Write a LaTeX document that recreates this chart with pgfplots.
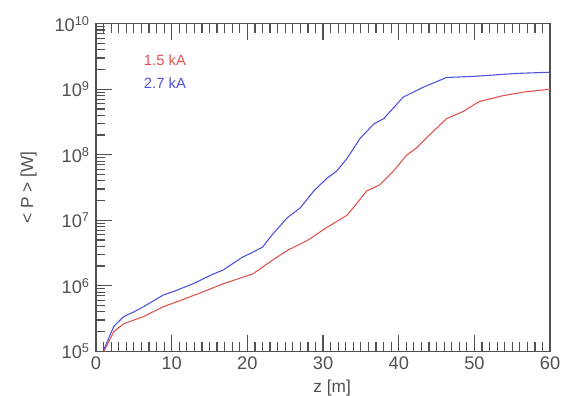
\documentclass[border=0pt]{standalone}
\usepackage{fontspec}
\setmainfont{Liberation Sans}
\usepackage{pgfplots}
\pgfplotsset{compat=1.18}
\definecolor{cred}{RGB}{222,84,78}
\definecolor{cblue}{RGB}{80,80,225}
\definecolor{axgray}{RGB}{80,80,80}
\begin{document}
\begin{tikzpicture}
\begin{axis}[
  scale only axis,
  width=459bp, height=331bp,
  xmin=0, xmax=60,
  ymode=log, ymin=1e5, ymax=1e10,
  xtick={0,10,...,60},
  minor x tick num=9,
  ytick={1e5,1e6,1e7,1e8,1e9,1e10},
  yticklabels={10\textsuperscript{5},10\textsuperscript{6},10\textsuperscript{7},10\textsuperscript{8},10\textsuperscript{9},10\textsuperscript{10}},
  ytick pos=left,
  tick align=inside,
  major tick length=16bp,
  minor tick length=9bp,
  every tick/.style={axgray, line width=1.2pt},
  axis line style={axgray, line width=1.4pt},
  /pgf/number format/assume math mode=true,
  tick label style={font=\fontsize{18.5}{21}\selectfont, text=axgray},
  xticklabel style={yshift=-2bp},
  yticklabel style={xshift=-3bp},
  xlabel={z [m]},
  ylabel={< P > [W]},
  label style={font=\fontsize{17.5}{20}\selectfont, text=axgray},
  xlabel style={at={(axis description cs:0.52,-0.112)}, anchor=center},
  ylabel style={at={(axis description cs:-0.148,0.5)}, anchor=center},
  clip=true,
]
\addplot[cred, line width=1.1pt] coordinates {
(1.05,1e5) (2.36,1.995e5) (3.67,2.63e5) (6.29,3.39e5) (8.91,4.79e5) (11.5,6.17e5)
(14.2,8.13e5) (16.8,1.07e6) (19.4,1.35e6) (20.7,1.51e6) (23.3,2.45e6) (25.3,3.47e6)
(27.9,4.90e6) (30.5,7.76e6) (33.2,1.20e7) (35.8,2.82e7) (37.5,3.47e7) (39.3,5.62e7)
(41.0,9.77e7) (42.3,1.26e8) (43.6,1.78e8) (46.3,3.55e8) (48.5,4.57e8) (50.6,6.46e8)
(53.7,7.94e8) (56.7,9.12e8) (60,1.0e9)};
\addplot[cblue, line width=1.1pt] coordinates {
(1.05,1.07e5) (2.36,2.40e5) (3.67,3.39e5) (4.98,3.98e5) (6.29,4.79e5) (8.91,7.24e5)
(10.2,8.13e5) (12.8,1.07e6) (15.5,1.51e6) (16.8,1.74e6) (19.4,2.75e6) (20.7,3.24e6)
(22.0,3.89e6) (23.3,6.03e6) (25.3,1.10e7) (27.0,1.55e7) (28.8,2.82e7) (30.5,4.37e7)
(31.8,5.62e7) (33.2,8.91e7) (34.9,1.78e8) (36.7,2.95e8) (38.0,3.55e8) (40.6,7.59e8)
(43.2,1.07e9) (46.3,1.51e9) (50.2,1.58e9) (55.4,1.74e9) (60,1.82e9)};
\node[anchor=west, text=cred, font=\fontsize{15}{18}\selectfont] at (rel axis cs:0.098,0.888) {1.5 kA};
\node[anchor=west, text=cblue, font=\fontsize{15}{18}\selectfont] at (rel axis cs:0.098,0.819) {2.7 kA};
\end{axis}
\begin{axis}[
  scale only axis,
  width=459bp, height=331bp,
  xmin=0, xmax=60,
  ymode=log, ymin=1e5, ymax=1e10,
  axis lines=none,
  xtick=\empty,
  ytick={1e5,1e6,1e7,1e8,1e9,1e10},
  yticklabels={},
  ytick pos=right,
  yminorticks=false,
  tick align=inside,
  major tick length=16bp,
  every tick/.style={axgray, line width=1.2pt},
]
\end{axis}
\pgfresetboundingbox
\path[use as bounding box] ([shift={(-97bp,-45bp)}]current axis.south west) rectangle ([shift={(13bp,24bp)}]current axis.north east);
\end{tikzpicture}
\end{document}
